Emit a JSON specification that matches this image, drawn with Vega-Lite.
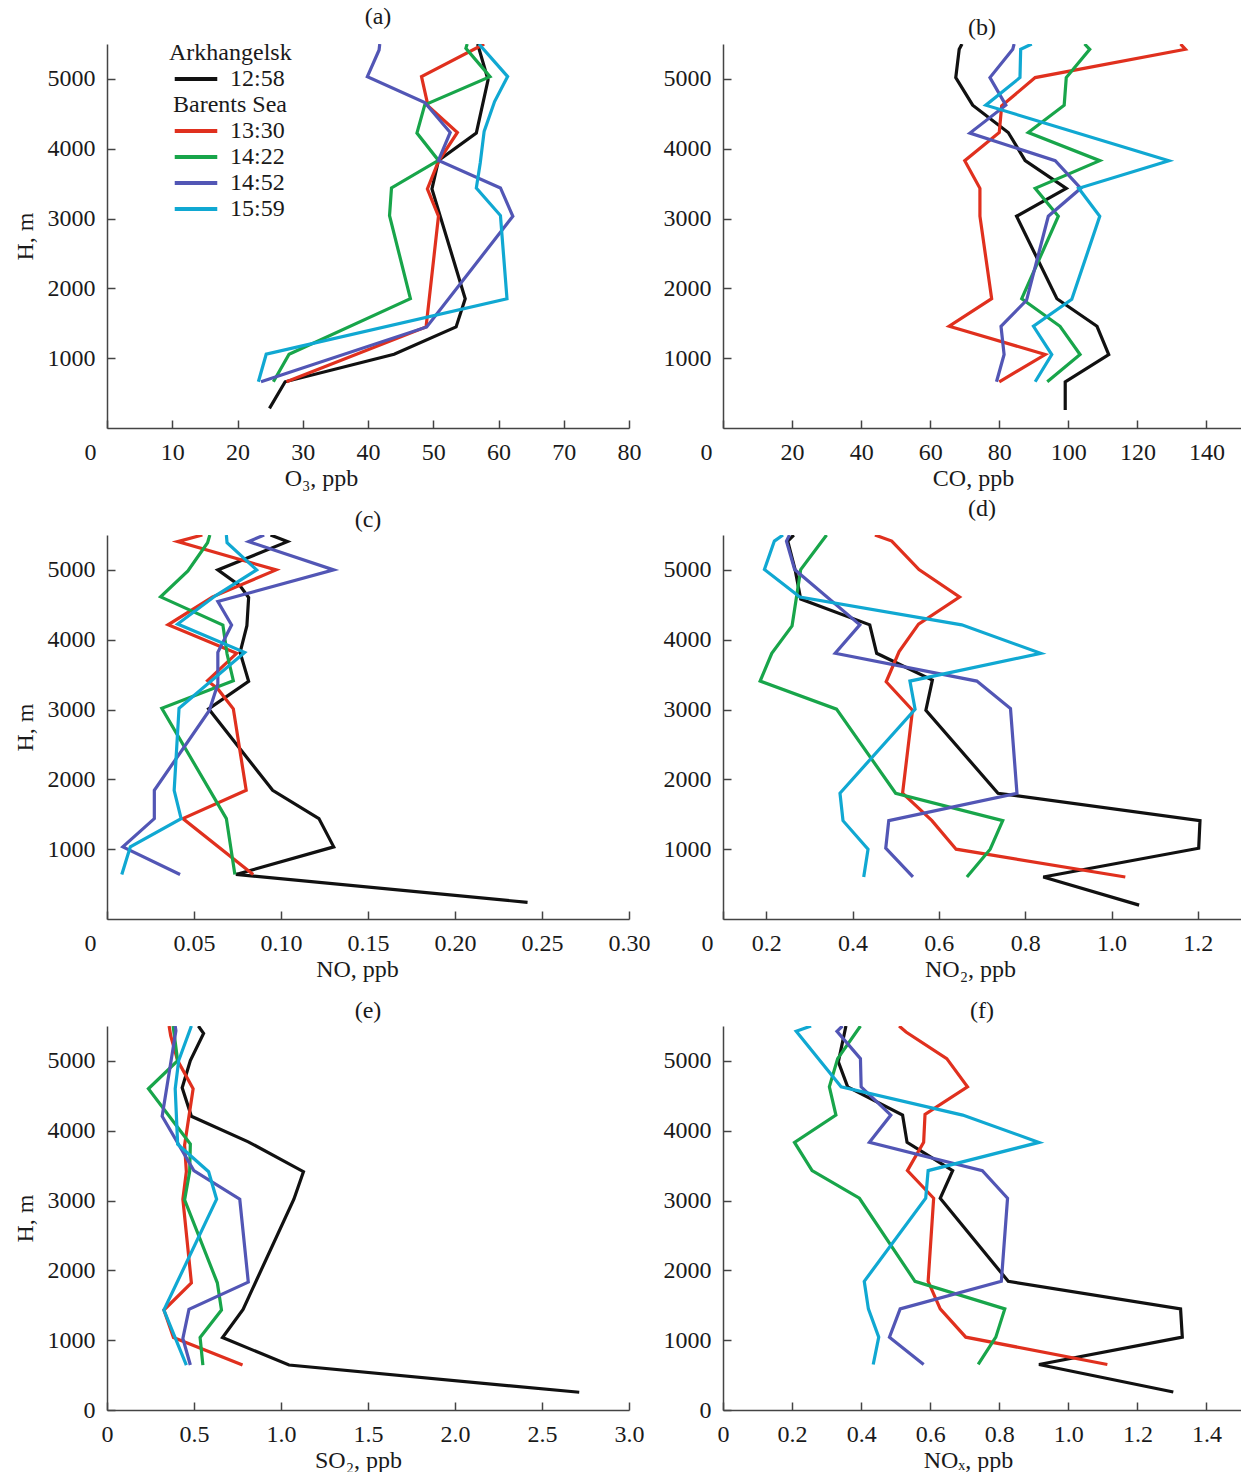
{
  "$schema": "https://vega.github.io/schema/vega-lite/v6.json",
  "background": "white",
  "padding": {"left": 13, "top": 5, "right": 0, "bottom": 0},
  "bounds": "flush",
  "columns": 2,
  "spacing": {"row": 107, "column": 94},
  "resolve": {"legend": {"color": "independent"}},
  "config": {
    "view": {"stroke": null},
    "font": "Liberation Serif",
    "title": {"font": "Liberation Serif", "fontSize": 24, "fontWeight": "normal", "color": "#1a1a1a", "anchor": "middle"},
    "axis": {
      "labelFont": "Liberation Serif", "labelFontSize": 24, "labelColor": "#1a1a1a",
      "titleFont": "Liberation Serif", "titleFontSize": 24, "titleFontWeight": "normal", "titleColor": "#1a1a1a",
      "domainColor": "#444444", "tickColor": "#444444", "domainWidth": 1.5, "tickWidth": 1.5,
      "tickSize": -8, "grid": false, "labelFlush": false, "labelOverlap": false, "labelPadding": 20
    },
    "axisX": {"titlePadding": 2},
    "axisY": {"titlePadding": 10}
  },
  "datasets": {
    "d": [
      {"p":"a","s":"12:58","h":281,"v":24.9},{"p":"a","s":"12:58","h":662,"v":27.3},{"p":"a","s":"12:58","h":1057,"v":44.0},{"p":"a","s":"12:58","h":1448,"v":53.5},{"p":"a","s":"12:58","h":1852,"v":54.9},{"p":"a","s":"12:58","h":3424,"v":49.8},{"p":"a","s":"12:58","h":3833,"v":50.8},{"p":"a","s":"12:58","h":4224,"v":56.6},{"p":"a","s":"12:58","h":4986,"v":58.4},{"p":"a","s":"12:58","h":5500,"v":56.8},
      {"p":"a","s":"13:30","h":662,"v":27.5},{"p":"a","s":"13:30","h":1448,"v":48.9},{"p":"a","s":"13:30","h":3033,"v":50.8},{"p":"a","s":"13:30","h":3424,"v":49.1},{"p":"a","s":"13:30","h":3819,"v":50.8},{"p":"a","s":"13:30","h":4233,"v":53.7},{"p":"a","s":"13:30","h":4614,"v":49.2},{"p":"a","s":"13:30","h":5033,"v":48.2},{"p":"a","s":"13:30","h":5500,"v":57.8},
      {"p":"a","s":"14:22","h":662,"v":25.5},{"p":"a","s":"14:22","h":1057,"v":27.9},{"p":"a","s":"14:22","h":1852,"v":46.5},{"p":"a","s":"14:22","h":3043,"v":43.3},{"p":"a","s":"14:22","h":3438,"v":43.6},{"p":"a","s":"14:22","h":3833,"v":50.8},{"p":"a","s":"14:22","h":4224,"v":47.5},{"p":"a","s":"14:22","h":4629,"v":48.7},{"p":"a","s":"14:22","h":5033,"v":58.7},{"p":"a","s":"14:22","h":5438,"v":55.0},{"p":"a","s":"14:22","h":5500,"v":55.2},
      {"p":"a","s":"14:52","h":662,"v":23.6},{"p":"a","s":"14:52","h":1448,"v":49.0},{"p":"a","s":"14:52","h":3033,"v":62.2},{"p":"a","s":"14:52","h":3438,"v":60.3},{"p":"a","s":"14:52","h":3833,"v":50.8},{"p":"a","s":"14:52","h":4233,"v":52.6},{"p":"a","s":"14:52","h":4662,"v":48.7},{"p":"a","s":"14:52","h":5033,"v":39.9},{"p":"a","s":"14:52","h":5414,"v":41.7},{"p":"a","s":"14:52","h":5500,"v":41.8},
      {"p":"a","s":"15:59","h":662,"v":23.2},{"p":"a","s":"15:59","h":1057,"v":24.4},{"p":"a","s":"15:59","h":1852,"v":61.3},{"p":"a","s":"15:59","h":3043,"v":60.3},{"p":"a","s":"15:59","h":3438,"v":56.6},{"p":"a","s":"15:59","h":3795,"v":57.2},{"p":"a","s":"15:59","h":4248,"v":57.8},{"p":"a","s":"15:59","h":4676,"v":59.4},{"p":"a","s":"15:59","h":5033,"v":61.4},{"p":"a","s":"15:59","h":5500,"v":57.0},

      {"p":"b","s":"12:58","h":257,"v":99.1},{"p":"b","s":"12:58","h":662,"v":99.1},{"p":"b","s":"12:58","h":1052,"v":111.7},{"p":"b","s":"12:58","h":1457,"v":108.3},{"p":"b","s":"12:58","h":1852,"v":96.7},{"p":"b","s":"12:58","h":3033,"v":85.0},{"p":"b","s":"12:58","h":3433,"v":99.4},{"p":"b","s":"12:58","h":3829,"v":87.5},{"p":"b","s":"12:58","h":4233,"v":82.6},{"p":"b","s":"12:58","h":4624,"v":72.3},{"p":"b","s":"12:58","h":5019,"v":67.4},{"p":"b","s":"12:58","h":5424,"v":68.4},{"p":"b","s":"12:58","h":5500,"v":69.2},
      {"p":"b","s":"13:30","h":662,"v":80.0},{"p":"b","s":"13:30","h":1052,"v":93.3},{"p":"b","s":"13:30","h":1457,"v":65.5},{"p":"b","s":"13:30","h":1852,"v":77.8},{"p":"b","s":"13:30","h":3033,"v":74.4},{"p":"b","s":"13:30","h":3433,"v":74.4},{"p":"b","s":"13:30","h":3829,"v":70.0},{"p":"b","s":"13:30","h":4233,"v":80.0},{"p":"b","s":"13:30","h":4614,"v":80.7},{"p":"b","s":"13:30","h":5019,"v":90.4},{"p":"b","s":"13:30","h":5424,"v":133.9},{"p":"b","s":"13:30","h":5500,"v":132.5},
      {"p":"b","s":"14:22","h":662,"v":93.9},{"p":"b","s":"14:22","h":1052,"v":103.4},{"p":"b","s":"14:22","h":1457,"v":97.6},{"p":"b","s":"14:22","h":1852,"v":86.5},{"p":"b","s":"14:22","h":3033,"v":97.1},{"p":"b","s":"14:22","h":3433,"v":90.4},{"p":"b","s":"14:22","h":3829,"v":109.1},{"p":"b","s":"14:22","h":4233,"v":88.4},{"p":"b","s":"14:22","h":4624,"v":98.8},{"p":"b","s":"14:22","h":5019,"v":99.4},{"p":"b","s":"14:22","h":5424,"v":106.2},{"p":"b","s":"14:22","h":5500,"v":104.7},
      {"p":"b","s":"14:52","h":662,"v":79.2},{"p":"b","s":"14:52","h":1052,"v":81.4},{"p":"b","s":"14:52","h":1457,"v":80.5},{"p":"b","s":"14:52","h":1829,"v":87.9},{"p":"b","s":"14:52","h":3033,"v":94.2},{"p":"b","s":"14:52","h":3433,"v":103.6},{"p":"b","s":"14:52","h":3829,"v":96.2},{"p":"b","s":"14:52","h":4224,"v":71.5},{"p":"b","s":"14:52","h":4624,"v":81.9},{"p":"b","s":"14:52","h":5019,"v":77.3},{"p":"b","s":"14:52","h":5424,"v":83.9},{"p":"b","s":"14:52","h":5500,"v":84.3},
      {"p":"b","s":"15:59","h":662,"v":90.4},{"p":"b","s":"15:59","h":1052,"v":95.2},{"p":"b","s":"15:59","h":1457,"v":89.9},{"p":"b","s":"15:59","h":1843,"v":101.0},{"p":"b","s":"15:59","h":3033,"v":109.1},{"p":"b","s":"15:59","h":3433,"v":103.0},{"p":"b","s":"15:59","h":3829,"v":129.1},{"p":"b","s":"15:59","h":4624,"v":76.1},{"p":"b","s":"15:59","h":5019,"v":86.0},{"p":"b","s":"15:59","h":5424,"v":86.2},{"p":"b","s":"15:59","h":5500,"v":89.4},

      {"p":"c","s":"12:58","h":238,"v":0.2417},{"p":"c","s":"12:58","h":638,"v":0.0741},{"p":"c","s":"12:58","h":1033,"v":0.1303},{"p":"c","s":"12:58","h":1438,"v":0.1218},{"p":"c","s":"12:58","h":1843,"v":0.0952},{"p":"c","s":"12:58","h":3010,"v":0.0584},{"p":"c","s":"12:58","h":3405,"v":0.0814},{"p":"c","s":"12:58","h":3819,"v":0.0765},{"p":"c","s":"12:58","h":4200,"v":0.0804},{"p":"c","s":"12:58","h":4605,"v":0.0814},{"p":"c","s":"12:58","h":4771,"v":0.0765},{"p":"c","s":"12:58","h":5000,"v":0.0637},{"p":"c","s":"12:58","h":5405,"v":0.1037},{"p":"c","s":"12:58","h":5500,"v":0.094},
      {"p":"c","s":"13:30","h":638,"v":0.0840},{"p":"c","s":"13:30","h":1438,"v":0.0436},{"p":"c","s":"13:30","h":1843,"v":0.0800},{"p":"c","s":"13:30","h":3010,"v":0.0726},{"p":"c","s":"13:30","h":3295,"v":0.0637},{"p":"c","s":"13:30","h":3414,"v":0.0578},{"p":"c","s":"13:30","h":3805,"v":0.0745},{"p":"c","s":"13:30","h":4214,"v":0.0351},{"p":"c","s":"13:30","h":4614,"v":0.0607},{"p":"c","s":"13:30","h":5000,"v":0.0972},{"p":"c","s":"13:30","h":5405,"v":0.0406},{"p":"c","s":"13:30","h":5500,"v":0.0548},
      {"p":"c","s":"14:22","h":638,"v":0.0735},{"p":"c","s":"14:22","h":1438,"v":0.0686},{"p":"c","s":"14:22","h":3019,"v":0.0315},{"p":"c","s":"14:22","h":3414,"v":0.0726},{"p":"c","s":"14:22","h":3795,"v":0.0690},{"p":"c","s":"14:22","h":4210,"v":0.0666},{"p":"c","s":"14:22","h":4614,"v":0.0308},{"p":"c","s":"14:22","h":4986,"v":0.0465},{"p":"c","s":"14:22","h":5390,"v":0.0578},{"p":"c","s":"14:22","h":5500,"v":0.0591},
      {"p":"c","s":"14:52","h":638,"v":0.0420},{"p":"c","s":"14:52","h":1033,"v":0.0091},{"p":"c","s":"14:52","h":1438,"v":0.0272},{"p":"c","s":"14:52","h":1843,"v":0.0272},{"p":"c","s":"14:52","h":2986,"v":0.0588},{"p":"c","s":"14:52","h":3367,"v":0.0637},{"p":"c","s":"14:52","h":3819,"v":0.0637},{"p":"c","s":"14:52","h":4210,"v":0.0716},{"p":"c","s":"14:52","h":4548,"v":0.0637},{"p":"c","s":"14:52","h":5000,"v":0.1303},{"p":"c","s":"14:52","h":5405,"v":0.0814},{"p":"c","s":"14:52","h":5500,"v":0.0903},
      {"p":"c","s":"15:59","h":638,"v":0.0085},{"p":"c","s":"15:59","h":1033,"v":0.0134},{"p":"c","s":"15:59","h":1438,"v":0.0426},{"p":"c","s":"15:59","h":1843,"v":0.0386},{"p":"c","s":"15:59","h":3019,"v":0.0414},{"p":"c","s":"15:59","h":3819,"v":0.0791},{"p":"c","s":"15:59","h":4224,"v":0.0406},{"p":"c","s":"15:59","h":4629,"v":0.0623},{"p":"c","s":"15:59","h":5000,"v":0.0860},{"p":"c","s":"15:59","h":5390,"v":0.0690},{"p":"c","s":"15:59","h":5500,"v":0.0686},

      {"p":"d","s":"12:58","h":199,"v":1.064},{"p":"d","s":"12:58","h":602,"v":0.842},{"p":"d","s":"12:58","h":1014,"v":1.202},{"p":"d","s":"12:58","h":1408,"v":1.205},{"p":"d","s":"12:58","h":1801,"v":0.737},{"p":"d","s":"12:58","h":2990,"v":0.570},{"p":"d","s":"12:58","h":3422,"v":0.585},{"p":"d","s":"12:58","h":3806,"v":0.456},{"p":"d","s":"12:58","h":4213,"v":0.440},{"p":"d","s":"12:58","h":4583,"v":0.280},{"p":"d","s":"12:58","h":5005,"v":0.267},{"p":"d","s":"12:58","h":5413,"v":0.250},{"p":"d","s":"12:58","h":5500,"v":0.264},
      {"p":"d","s":"13:30","h":602,"v":1.032},{"p":"d","s":"13:30","h":1000,"v":0.640},{"p":"d","s":"13:30","h":1408,"v":0.584},{"p":"d","s":"13:30","h":1801,"v":0.516},{"p":"d","s":"13:30","h":2990,"v":0.539},{"p":"d","s":"13:30","h":3398,"v":0.478},{"p":"d","s":"13:30","h":3830,"v":0.508},{"p":"d","s":"13:30","h":4223,"v":0.553},{"p":"d","s":"13:30","h":4612,"v":0.648},{"p":"d","s":"13:30","h":5005,"v":0.554},{"p":"d","s":"13:30","h":5413,"v":0.491},{"p":"d","s":"13:30","h":5500,"v":0.452},
      {"p":"d","s":"14:22","h":602,"v":0.665},{"p":"d","s":"14:22","h":1000,"v":0.719},{"p":"d","s":"14:22","h":1408,"v":0.748},{"p":"d","s":"14:22","h":1801,"v":0.500},{"p":"d","s":"14:22","h":3005,"v":0.363},{"p":"d","s":"14:22","h":3408,"v":0.186},{"p":"d","s":"14:22","h":3806,"v":0.213},{"p":"d","s":"14:22","h":4199,"v":0.260},{"p":"d","s":"14:22","h":5005,"v":0.280},{"p":"d","s":"14:22","h":5500,"v":0.340},
      {"p":"d","s":"14:52","h":602,"v":0.540},{"p":"d","s":"14:52","h":1014,"v":0.477},{"p":"d","s":"14:52","h":1408,"v":0.484},{"p":"d","s":"14:52","h":1801,"v":0.781},{"p":"d","s":"14:52","h":3014,"v":0.766},{"p":"d","s":"14:52","h":3408,"v":0.688},{"p":"d","s":"14:52","h":3806,"v":0.360},{"p":"d","s":"14:52","h":4213,"v":0.417},{"p":"d","s":"14:52","h":5005,"v":0.266},{"p":"d","s":"14:52","h":5413,"v":0.247},{"p":"d","s":"14:52","h":5500,"v":0.254},
      {"p":"d","s":"15:59","h":602,"v":0.426},{"p":"d","s":"15:59","h":1000,"v":0.436},{"p":"d","s":"15:59","h":1408,"v":0.378},{"p":"d","s":"15:59","h":1801,"v":0.371},{"p":"d","s":"15:59","h":3005,"v":0.545},{"p":"d","s":"15:59","h":3408,"v":0.533},{"p":"d","s":"15:59","h":3806,"v":0.836},{"p":"d","s":"15:59","h":4213,"v":0.653},{"p":"d","s":"15:59","h":4612,"v":0.278},{"p":"d","s":"15:59","h":5005,"v":0.196},{"p":"d","s":"15:59","h":5413,"v":0.219},{"p":"d","s":"15:59","h":5500,"v":0.239},

      {"p":"e","s":"12:58","h":254,"v":2.714},{"p":"e","s":"12:58","h":644,"v":1.046},{"p":"e","s":"12:58","h":1038,"v":0.664},{"p":"e","s":"12:58","h":1442,"v":0.782},{"p":"e","s":"12:58","h":3019,"v":1.074},{"p":"e","s":"12:58","h":3413,"v":1.129},{"p":"e","s":"12:58","h":3841,"v":0.812},{"p":"e","s":"12:58","h":4207,"v":0.485},{"p":"e","s":"12:58","h":4615,"v":0.432},{"p":"e","s":"12:58","h":5005,"v":0.479},{"p":"e","s":"12:58","h":5394,"v":0.555},{"p":"e","s":"12:58","h":5500,"v":0.525},
      {"p":"e","s":"13:30","h":644,"v":0.779},{"p":"e","s":"13:30","h":1038,"v":0.382},{"p":"e","s":"13:30","h":1432,"v":0.327},{"p":"e","s":"13:30","h":1822,"v":0.485},{"p":"e","s":"13:30","h":3019,"v":0.436},{"p":"e","s":"13:30","h":3413,"v":0.456},{"p":"e","s":"13:30","h":3793,"v":0.446},{"p":"e","s":"13:30","h":4601,"v":0.495},{"p":"e","s":"13:30","h":5005,"v":0.406},{"p":"e","s":"13:30","h":5361,"v":0.366},{"p":"e","s":"13:30","h":5500,"v":0.357},
      {"p":"e","s":"14:22","h":644,"v":0.551},{"p":"e","s":"14:22","h":1038,"v":0.535},{"p":"e","s":"14:22","h":1432,"v":0.658},{"p":"e","s":"14:22","h":1822,"v":0.634},{"p":"e","s":"14:22","h":3010,"v":0.446},{"p":"e","s":"14:22","h":3413,"v":0.475},{"p":"e","s":"14:22","h":3808,"v":0.479},{"p":"e","s":"14:22","h":4601,"v":0.238},{"p":"e","s":"14:22","h":5005,"v":0.406},{"p":"e","s":"14:22","h":5500,"v":0.380},
      {"p":"e","s":"14:52","h":644,"v":0.479},{"p":"e","s":"14:52","h":1024,"v":0.436},{"p":"e","s":"14:52","h":1442,"v":0.471},{"p":"e","s":"14:52","h":1832,"v":0.812},{"p":"e","s":"14:52","h":3019,"v":0.763},{"p":"e","s":"14:52","h":3428,"v":0.499},{"p":"e","s":"14:52","h":4207,"v":0.317},{"p":"e","s":"14:52","h":5432,"v":0.396},{"p":"e","s":"14:52","h":5500,"v":0.392},
      {"p":"e","s":"15:59","h":644,"v":0.456},{"p":"e","s":"15:59","h":1432,"v":0.327},{"p":"e","s":"15:59","h":3019,"v":0.630},{"p":"e","s":"15:59","h":3413,"v":0.584},{"p":"e","s":"15:59","h":3808,"v":0.406},{"p":"e","s":"15:59","h":4601,"v":0.392},{"p":"e","s":"15:59","h":5005,"v":0.412},{"p":"e","s":"15:59","h":5500,"v":0.485},

      {"p":"f","s":"12:58","h":257,"v":1.304},{"p":"f","s":"12:58","h":652,"v":0.915},{"p":"f","s":"12:58","h":1043,"v":1.330},{"p":"f","s":"12:58","h":1448,"v":1.325},{"p":"f","s":"12:58","h":1843,"v":0.826},{"p":"f","s":"12:58","h":3033,"v":0.629},{"p":"f","s":"12:58","h":3429,"v":0.665},{"p":"f","s":"12:58","h":3833,"v":0.533},{"p":"f","s":"12:58","h":4224,"v":0.520},{"p":"f","s":"12:58","h":4629,"v":0.361},{"p":"f","s":"12:58","h":4986,"v":0.334},{"p":"f","s":"12:58","h":5500,"v":0.356},
      {"p":"f","s":"13:30","h":652,"v":1.113},{"p":"f","s":"13:30","h":1043,"v":0.703},{"p":"f","s":"13:30","h":1448,"v":0.629},{"p":"f","s":"13:30","h":1843,"v":0.594},{"p":"f","s":"13:30","h":3033,"v":0.610},{"p":"f","s":"13:30","h":3429,"v":0.534},{"p":"f","s":"13:30","h":3833,"v":0.581},{"p":"f","s":"13:30","h":4233,"v":0.585},{"p":"f","s":"13:30","h":4629,"v":0.708},{"p":"f","s":"13:30","h":5033,"v":0.648},{"p":"f","s":"13:30","h":5414,"v":0.530},{"p":"f","s":"13:30","h":5500,"v":0.510},
      {"p":"f","s":"14:22","h":652,"v":0.739},{"p":"f","s":"14:22","h":1043,"v":0.790},{"p":"f","s":"14:22","h":1448,"v":0.816},{"p":"f","s":"14:22","h":1843,"v":0.556},{"p":"f","s":"14:22","h":3033,"v":0.395},{"p":"f","s":"14:22","h":3429,"v":0.258},{"p":"f","s":"14:22","h":3833,"v":0.207},{"p":"f","s":"14:22","h":4224,"v":0.327},{"p":"f","s":"14:22","h":4629,"v":0.308},{"p":"f","s":"14:22","h":5033,"v":0.332},{"p":"f","s":"14:22","h":5500,"v":0.398},
      {"p":"f","s":"14:52","h":652,"v":0.581},{"p":"f","s":"14:52","h":1043,"v":0.482},{"p":"f","s":"14:52","h":1448,"v":0.513},{"p":"f","s":"14:52","h":1843,"v":0.806},{"p":"f","s":"14:52","h":3033,"v":0.824},{"p":"f","s":"14:52","h":3429,"v":0.751},{"p":"f","s":"14:52","h":3833,"v":0.424},{"p":"f","s":"14:52","h":4224,"v":0.486},{"p":"f","s":"14:52","h":4629,"v":0.400},{"p":"f","s":"14:52","h":5033,"v":0.398},{"p":"f","s":"14:52","h":5424,"v":0.330},{"p":"f","s":"14:52","h":5500,"v":0.346},
      {"p":"f","s":"15:59","h":652,"v":0.435},{"p":"f","s":"15:59","h":1043,"v":0.451},{"p":"f","s":"15:59","h":1448,"v":0.421},{"p":"f","s":"15:59","h":1843,"v":0.409},{"p":"f","s":"15:59","h":3033,"v":0.587},{"p":"f","s":"15:59","h":3429,"v":0.594},{"p":"f","s":"15:59","h":3833,"v":0.915},{"p":"f","s":"15:59","h":4224,"v":0.694},{"p":"f","s":"15:59","h":4629,"v":0.342},{"p":"f","s":"15:59","h":5424,"v":0.212},{"p":"f","s":"15:59","h":5500,"v":0.255}
    ]
  },
  "concat": [
    {
      "width": 522, "height": 384,
      "title": {"text": "(a)", "offset": 12, "dx": 10},
      "data": {"name": "d"},
      "transform": [{"filter": "datum.p == 'a'"}],
      "mark": {"type": "line", "strokeWidth": 3.2, "clip": true},
      "encoding": {
        "x": {"field": "v", "type": "quantitative", "scale": {"domain": [0, 80], "nice": false, "zero": false},
              "axis": {"title": "O₃, ppb", "values": [0,10,20,30,40,50,60,70,80], "titleX": 214,
                       "labelOffset": {"condition": {"test": "datum.value == 0", "value": -17}, "value": 0}}},
        "y": {"field": "h", "type": "quantitative", "scale": {"domain": [0, 5500], "nice": false},
              "axis": {"title": "H, m", "values": [1000,2000,3000,4000,5000], "format": "d"}},
        "color": {"field": "s", "type": "nominal",
                  "scale": {"domain": ["Arkhangelsk","12:58","Barents Sea","13:30","14:22","14:52","15:59"],
                            "range": ["transparent","#111111","transparent","#e0301e","#18a54a","#5256b5","#10a8d2"]},
                  "legend": {"title": null, "orient": "none", "legendX": 68, "legendY": -3, "padding": 0,
                             "symbolType": "M-3,0H3", "symbolSize": 201, "symbolStrokeWidth": 4, "symbolOffset": 9,
                             "symbolFillColor": "transparent",
                             "labelFont": "Liberation Serif", "labelFontSize": 24, "labelColor": "#1a1a1a", "labelOffset": 22,
                             "labelLimit": 400, "rowPadding": 2,
                             "encode": {"labels": {"update": {"dx": {"signal": "datum.value == 'Arkhangelsk' ? -61 : datum.value == 'Barents Sea' ? -57 : 0"}}}}}},
        "order": {"field": "h", "type": "quantitative"}
      }
    },
    {
      "width": 518, "height": 384,
      "title": {"text": "(b)", "offset": 4},
      "data": {"name": "d"},
      "transform": [{"filter": "datum.p == 'b'"}],
      "mark": {"type": "line", "strokeWidth": 3.2, "clip": true},
      "encoding": {
        "x": {"field": "v", "type": "quantitative", "scale": {"domain": [0, 150], "nice": false, "zero": false},
              "axis": {"title": "CO, ppb", "values": [0,20,40,60,80,100,120,140], "titleX": 250,
                       "labelOffset": {"condition": {"test": "datum.value == 0", "value": -17}, "value": 0}}},
        "y": {"field": "h", "type": "quantitative", "scale": {"domain": [0, 5500], "nice": false},
              "axis": {"title": null, "values": [1000,2000,3000,4000,5000], "format": "d"}},
        "color": {"field": "s", "type": "nominal",
                  "scale": {"domain": ["Arkhangelsk","12:58","Barents Sea","13:30","14:22","14:52","15:59"],
                            "range": ["transparent","#111111","transparent","#e0301e","#18a54a","#5256b5","#10a8d2"]},
                  "legend": null},
        "order": {"field": "h", "type": "quantitative"}
      }
    },
    {
      "width": 522, "height": 384,
      "title": {"text": "(c)", "offset": 3},
      "data": {"name": "d"},
      "transform": [{"filter": "datum.p == 'c'"}],
      "mark": {"type": "line", "strokeWidth": 3.2, "clip": true},
      "encoding": {
        "x": {"field": "v", "type": "quantitative", "scale": {"domain": [0, 0.3], "nice": false, "zero": false},
              "axis": {"title": "NO, ppb", "values": [0,0.05,0.1,0.15,0.2,0.25,0.3], "titleX": 250,
                       "labelExpr": "datum.value == 0 ? '0' : format(datum.value, '.2f')",
                       "labelOffset": {"condition": {"test": "datum.value == 0", "value": -17}, "value": 0}}},
        "y": {"field": "h", "type": "quantitative", "scale": {"domain": [0, 5500], "nice": false},
              "axis": {"title": "H, m", "values": [1000,2000,3000,4000,5000], "format": "d"}},
        "color": {"field": "s", "type": "nominal",
                  "scale": {"domain": ["Arkhangelsk","12:58","Barents Sea","13:30","14:22","14:52","15:59"],
                            "range": ["transparent","#111111","transparent","#e0301e","#18a54a","#5256b5","#10a8d2"]},
                  "legend": null},
        "order": {"field": "h", "type": "quantitative"}
      }
    },
    {
      "width": 518, "height": 384,
      "title": {"text": "(d)", "offset": 14},
      "data": {"name": "d"},
      "transform": [{"filter": "datum.p == 'd'"}],
      "mark": {"type": "line", "strokeWidth": 3.2, "clip": true},
      "encoding": {
        "x": {"field": "v", "type": "quantitative", "scale": {"domain": [0.1, 1.3], "nice": false, "zero": false},
              "axis": {"title": "NO₂, ppb", "values": [0.1,0.2,0.4,0.6,0.8,1.0,1.2], "titleX": 247,
                       "labelExpr": "datum.value < 0.15 ? '0' : format(datum.value, '.1f')",
                       "labelOffset": {"condition": {"test": "datum.value < 0.15", "value": -16}, "value": 0}}},
        "y": {"field": "h", "type": "quantitative", "scale": {"domain": [0, 5500], "nice": false},
              "axis": {"title": null, "values": [1000,2000,3000,4000,5000], "format": "d"}},
        "color": {"field": "s", "type": "nominal",
                  "scale": {"domain": ["Arkhangelsk","12:58","Barents Sea","13:30","14:22","14:52","15:59"],
                            "range": ["transparent","#111111","transparent","#e0301e","#18a54a","#5256b5","#10a8d2"]},
                  "legend": null},
        "order": {"field": "h", "type": "quantitative"}
      }
    },
    {
      "width": 522, "height": 384,
      "title": {"text": "(e)", "offset": 3},
      "data": {"name": "d"},
      "transform": [{"filter": "datum.p == 'e'"}],
      "mark": {"type": "line", "strokeWidth": 3.2, "clip": true},
      "encoding": {
        "x": {"field": "v", "type": "quantitative", "scale": {"domain": [0, 3], "nice": false, "zero": false},
              "axis": {"title": "SO₂, ppb", "values": [0,0.5,1,1.5,2,2.5,3], "titleX": 251,
                       "labelExpr": "datum.value == 0 ? '0' : format(datum.value, '.1f')"}},
        "y": {"field": "h", "type": "quantitative", "scale": {"domain": [0, 5500], "nice": false},
              "axis": {"title": "H, m", "values": [0,1000,2000,3000,4000,5000], "format": "d"}},
        "color": {"field": "s", "type": "nominal",
                  "scale": {"domain": ["Arkhangelsk","12:58","Barents Sea","13:30","14:22","14:52","15:59"],
                            "range": ["transparent","#111111","transparent","#e0301e","#18a54a","#5256b5","#10a8d2"]},
                  "legend": null},
        "order": {"field": "h", "type": "quantitative"}
      }
    },
    {
      "width": 518, "height": 384,
      "title": {"text": "(f)", "offset": 3},
      "data": {"name": "d"},
      "transform": [{"filter": "datum.p == 'f'"}],
      "mark": {"type": "line", "strokeWidth": 3.2, "clip": true},
      "encoding": {
        "x": {"field": "v", "type": "quantitative", "scale": {"domain": [0, 1.5], "nice": false, "zero": false},
              "axis": {"title": "NOₓ, ppb", "values": [0,0.2,0.4,0.6,0.8,1.0,1.2,1.4], "titleX": 245,
                       "labelExpr": "datum.value == 0 ? '0' : format(datum.value, '.1f')"}},
        "y": {"field": "h", "type": "quantitative", "scale": {"domain": [0, 5500], "nice": false},
              "axis": {"title": null, "values": [0,1000,2000,3000,4000,5000], "format": "d"}},
        "color": {"field": "s", "type": "nominal",
                  "scale": {"domain": ["Arkhangelsk","12:58","Barents Sea","13:30","14:22","14:52","15:59"],
                            "range": ["transparent","#111111","transparent","#e0301e","#18a54a","#5256b5","#10a8d2"]},
                  "legend": null},
        "order": {"field": "h", "type": "quantitative"}
      }
    }
  ]
}
